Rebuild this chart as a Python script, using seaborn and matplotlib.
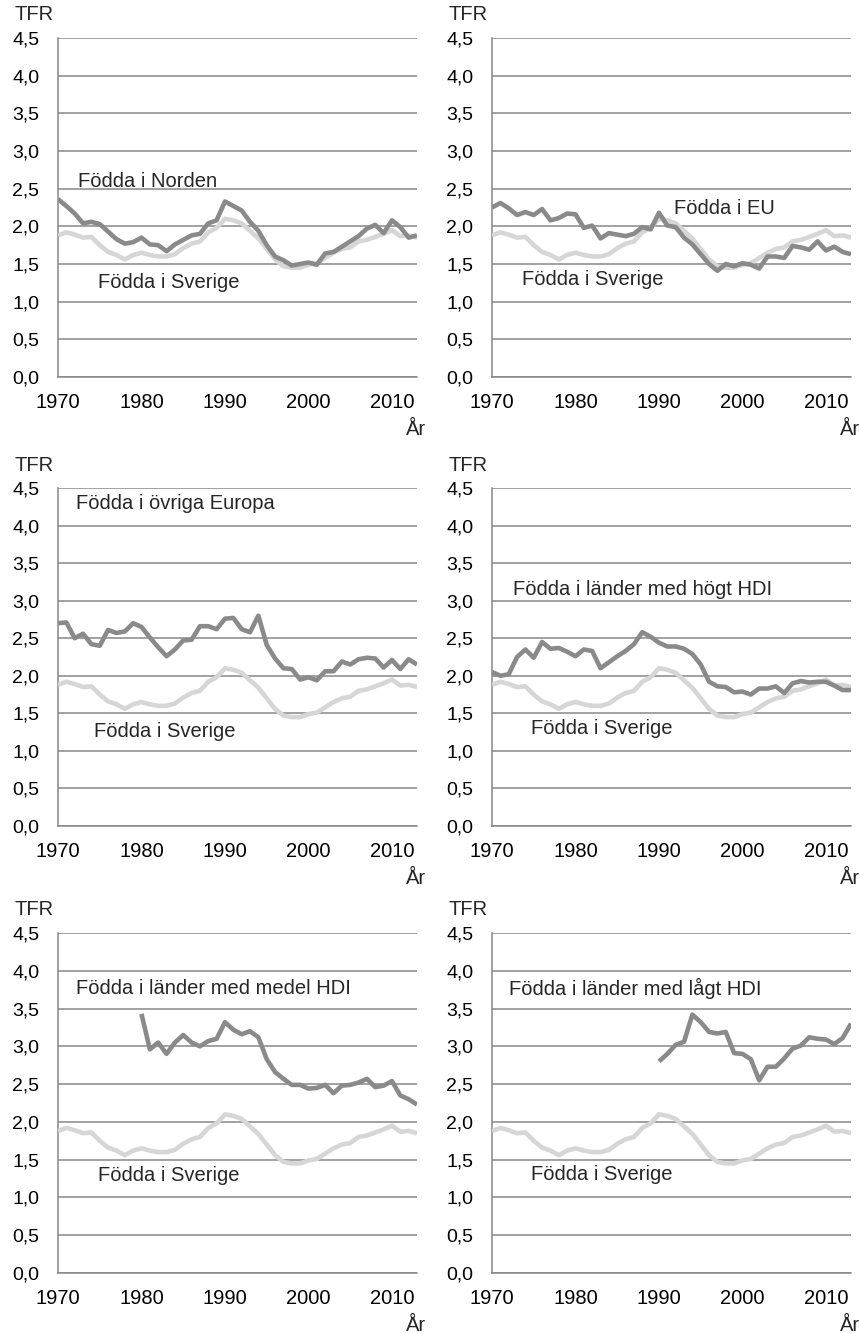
import numpy as np
import pandas as pd
import matplotlib
matplotlib.use("Agg")
import matplotlib.pyplot as plt
from matplotlib.ticker import FuncFormatter, MultipleLocator
import seaborn as sns

# TFR per year
years = list(range(1970, 2014))

sverige = [1.88, 1.92, 1.89, 1.85, 1.86, 1.75, 1.66, 1.62, 1.56, 1.62,
           1.65, 1.62, 1.60, 1.60, 1.63, 1.71, 1.77, 1.80, 1.92, 1.98,
           2.10, 2.08, 2.04, 1.94, 1.84, 1.70, 1.56, 1.47, 1.45, 1.45,
           1.49, 1.51, 1.58, 1.65, 1.70, 1.72, 1.80, 1.82, 1.86, 1.90,
           1.95, 1.87, 1.88, 1.85]

norden = [2.36, 2.27, 2.17, 2.04, 2.06, 2.03, 1.93, 1.83, 1.77, 1.79,
          1.85, 1.76, 1.75, 1.67, 1.76, 1.82, 1.88, 1.90, 2.04, 2.08,
          2.33, 2.27, 2.21, 2.06, 1.94, 1.75, 1.60, 1.55, 1.48, 1.50,
          1.52, 1.49, 1.64, 1.66, 1.73, 1.80, 1.87, 1.97, 2.02, 1.91,
          2.08, 1.99, 1.85, 1.88]

eu = [2.25, 2.31, 2.24, 2.15, 2.19, 2.15, 2.23, 2.08, 2.11, 2.17,
      2.16, 1.98, 2.01, 1.84, 1.91, 1.89, 1.87, 1.90, 1.99, 1.96,
      2.18, 2.01, 1.99, 1.85, 1.76, 1.63, 1.50, 1.41, 1.50, 1.47,
      1.51, 1.49, 1.44, 1.60, 1.60, 1.58, 1.74, 1.72, 1.69, 1.80,
      1.68, 1.73, 1.66, 1.63]

ovriga_europa = [2.70, 2.71, 2.50, 2.56, 2.42, 2.40, 2.61, 2.57, 2.59, 2.70,
                 2.65, 2.51, 2.38, 2.26, 2.35, 2.47, 2.48, 2.66, 2.66, 2.62,
                 2.76, 2.77, 2.62, 2.58, 2.80, 2.41, 2.23, 2.10, 2.09, 1.95,
                 1.98, 1.94, 2.06, 2.06, 2.19, 2.15, 2.22, 2.24, 2.23, 2.11,
                 2.21, 2.09, 2.22, 2.15]

hogt_hdi = [2.05, 2.00, 2.02, 2.25, 2.35, 2.24, 2.45, 2.36, 2.37, 2.32,
            2.26, 2.35, 2.33, 2.10, 2.18, 2.26, 2.33, 2.42, 2.58, 2.52,
            2.44, 2.39, 2.39, 2.36, 2.29, 2.15, 1.92, 1.86, 1.85, 1.78,
            1.79, 1.75, 1.83, 1.83, 1.86, 1.77, 1.90, 1.93, 1.91, 1.92,
            1.92, 1.87, 1.81, 1.81]

# medel HDI starts 1980, lågt HDI starts 1990
medel_hdi = [None] * 10 + [
    3.43, 2.96, 3.05, 2.90, 3.05, 3.15, 3.05, 3.00, 3.07, 3.10,
    3.32, 3.22, 3.16, 3.20, 3.12, 2.83, 2.66, 2.57, 2.49, 2.49,
    2.44, 2.45, 2.49, 2.38, 2.48, 2.49, 2.52, 2.57, 2.46, 2.48,
    2.54, 2.35, 2.30, 2.23]

lagt_hdi = [None] * 20 + [
    2.80, 2.90, 3.02, 3.06, 3.42, 3.32, 3.19, 3.17, 3.19, 2.91,
    2.90, 2.83, 2.55, 2.73, 2.73, 2.84, 2.97, 3.01, 3.12, 3.10,
    3.09, 3.03, 3.11, 3.30]

labels = ["Födda i Norden", "Födda i EU", "Födda i övriga Europa",
          "Födda i länder med högt HDI", "Födda i länder med medel HDI",
          "Födda i länder med lågt HDI"]
groups = [norden, eu, ovriga_europa, hogt_hdi, medel_hdi, lagt_hdi]

# label anchors (year, TFR) for group name and for "Födda i Sverige"
label_pos = [(1972.4, 2.60), (1991.8, 2.24), (1972.1, 4.29),
             (1972.5, 3.15), (1972.1, 3.77), (1972.0, 3.76)]
sverige_pos = [(1974.8, 1.26), (1973.6, 1.29), (1974.3, 1.26),
               (1974.7, 1.30), (1974.8, 1.29), (1974.7, 1.30)]

sns.set_style("white")
plt.rcParams['font.family'] = ['Liberation Sans', 'DejaVu Sans']

grid_col = "#878787"
dark_col = "#8a8a8a"
light_col = "#d6d6d6"
fs = 14.5

fig = plt.figure(figsize=(8.6, 13.34), dpi=100)

# axes boxes in pixels: (left, top, right, bottom)
col_x = [(58, 417), (492, 851)]
row_y = [(38, 377), (488, 826), (933, 1273)]

for i, (grp, lab) in enumerate(zip(groups, labels)):
    r, c = divmod(i, 2)
    x0, x1 = col_x[c]
    y0, y1 = row_y[r]
    ax = fig.add_axes([x0 / 860, 1 - y1 / 1334, (x1 - x0) / 860, (y1 - y0) / 1334])

    df = pd.DataFrame({"year": years, "sverige": sverige,
                       "grupp": pd.to_numeric(pd.Series(grp), errors="coerce")})
    sns.lineplot(data=df, x="year", y="sverige", ax=ax, color=light_col,
                 linewidth=3.3, solid_capstyle="butt", zorder=3)
    sns.lineplot(data=df.dropna(), x="year", y="grupp", ax=ax, color=dark_col,
                 linewidth=3.3, solid_capstyle="butt", zorder=4)

    ax.set_xlim(1970, 2013)
    ax.set_ylim(0, 4.5)
    ax.yaxis.set_major_locator(MultipleLocator(0.5))
    ax.xaxis.set_major_locator(MultipleLocator(10))
    ax.yaxis.set_major_formatter(FuncFormatter(lambda v, p: f"{v:.1f}".replace(".", ",")))
    ax.grid(axis="y", color=grid_col, linewidth=1.1)
    ax.grid(axis="x", visible=False)
    ax.set_axisbelow(True)
    for s in ["top", "right"]:
        ax.spines[s].set_visible(False)
    for s in ["left", "bottom"]:
        ax.spines[s].set_color(grid_col)
        ax.spines[s].set_linewidth(1.1)
    ax.tick_params(axis="both", direction="out", color=grid_col,
                   labelcolor="black", length=4.5, width=1.1)
    ax.tick_params(axis="x", pad=7, labelsize=14.5)
    ax.tick_params(axis="y", pad=9, labelsize=14)
    ax.set_xlabel("")
    ax.set_ylabel("")

    ax.text(-0.122, 1.068, "TFR", transform=ax.transAxes, fontsize=fs,
            ha="left", va="center")
    ax.text(1.025, -0.155, "År", transform=ax.transAxes, fontsize=fs,
            ha="right", va="center")

    ax.text(label_pos[i][0], label_pos[i][1], lab, fontsize=fs,
            ha="left", va="center")
    ax.text(sverige_pos[i][0], sverige_pos[i][1], "Födda i Sverige",
            fontsize=fs, ha="left", va="center")

fig.savefig("out.png", dpi=100)
